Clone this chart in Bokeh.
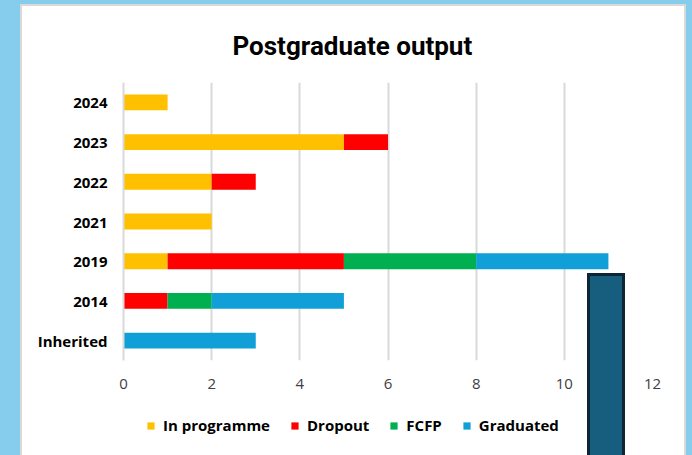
from bokeh.plotting import figure
from bokeh.layouts import column
from bokeh.models import (FactorRange, Range1d, Legend, LegendItem,
                          FixedTicker, GlobalInlineStyleSheet, ColumnDataSource)
from bokeh.embed import file_html
from bokeh.resources import INLINE

categories = ["Inherited", "2014", "2019", "2021", "2022", "2023", "2024"]
in_programme = [0, 0, 1, 2, 2, 5, 1]
dropout = [0, 1, 4, 0, 1, 1, 0]
fcfp = [0, 1, 3, 0, 0, 0, 0]
graduated = [3, 3, 3, 0, 0, 0, 0]
series_labels = ["In programme", "Dropout", "FCFP", "Graduated"]
series_keys = ["in_programme", "dropout", "fcfp", "graduated"]
colors = ["#FFC000", "#FF0000", "#00B050", "#119FD8"]
x_ticks = [0, 2, 4, 6, 8, 10, 12]

source = ColumnDataSource(dict(cat=categories, in_programme=in_programme,
                               dropout=dropout, fcfp=fcfp, graduated=graduated))

css = GlobalInlineStyleSheet(css="""
html,body{margin:0;padding:0;background:#86CCEC;overflow:hidden;}
body::after{content:"";position:fixed;left:587px;top:273px;width:32px;height:200px;
  background:#175D7E;border:3px solid #0D2636;z-index:50;}
""")

# ---- main chart ----
p = figure(width=662, height=394, y_range=FactorRange(*categories), x_range=Range1d(0, 12),
           output_backend="svg", toolbar_location=None,
           min_border_left=101, min_border_right=32, min_border_top=76, min_border_bottom=40,
           title="Postgraduate output")
p.background_fill_color = None
p.border_fill_color = "white"
p.outline_line_color = None

p.title.align = "left"
p.title.offset = 109
p.title.standoff = 44
p.title.text_font = "Roboto"
p.title.text_font_size = "26px"
p.title.text_font_style = "bold"
p.title.text_color = "#000000"

renderers = p.hbar_stack(series_keys, y="cat", height=0.4, color=colors, source=source,
                         line_color=None)

p.xaxis.ticker = FixedTicker(ticks=x_ticks)
p.xaxis.axis_line_color = None
p.xaxis.major_tick_line_color = None
p.xaxis.minor_tick_line_color = None
p.xaxis.major_label_text_font = "Open Sans"
p.xaxis.major_label_text_font_size = "15px"
p.xaxis.major_label_text_color = "#404040"
p.xaxis.major_label_standoff = 12

p.yaxis.axis_line_color = "#D9D9D9"
p.yaxis.axis_line_width = 2
p.yaxis.major_tick_line_color = None
p.yaxis.minor_tick_line_color = None
p.yaxis.major_label_text_font = "Open Sans"
p.yaxis.major_label_text_font_style = "bold"
p.yaxis.major_label_text_font_size = "15px"
p.yaxis.major_label_text_color = "#000000"
p.yaxis.major_label_standoff = 10

p.ygrid.grid_line_color = None
p.xgrid.ticker = FixedTicker(ticks=x_ticks)
p.xgrid.grid_line_color = "#D9D9D9"
p.xgrid.grid_line_width = 2

# ---- legend strip ----
q = figure(width=662, height=62, output_backend="svg", toolbar_location=None,
           x_axis_type=None, y_axis_type=None,
           min_border_left=0, min_border_right=0, min_border_top=0, min_border_bottom=0)
q.background_fill_color = None
q.border_fill_color = "white"
q.outline_line_color = None
q.grid.visible = False
legend_renderers = [q.hbar(y=[0], left=[0], right=[0], height=0.4, fill_color=c, line_color=None)
                    for c in colors]
items = [LegendItem(label=lab, renderers=[r]) for lab, r in zip(series_labels, legend_renderers)]
legend = Legend(items=items, orientation="horizontal", location=(23, 27),
                border_line_color=None, background_fill_alpha=0,
                glyph_width=9, glyph_height=9, label_standoff=8, spacing=20,
                padding=0, margin=0,
                label_text_font="Open Sans", label_text_font_style="bold",
                label_text_font_size="15px", label_text_color="#000000")
q.add_layout(legend, "center")

layout = column(p, q, spacing=0)
layout.stylesheets = [css]
layout.styles = {"margin-left": "20px", "margin-top": "4px", "border": "2px solid #D9D9D9",
                 "background-color": "white"}

open("out.html", "w").write(file_html(layout, INLINE))
